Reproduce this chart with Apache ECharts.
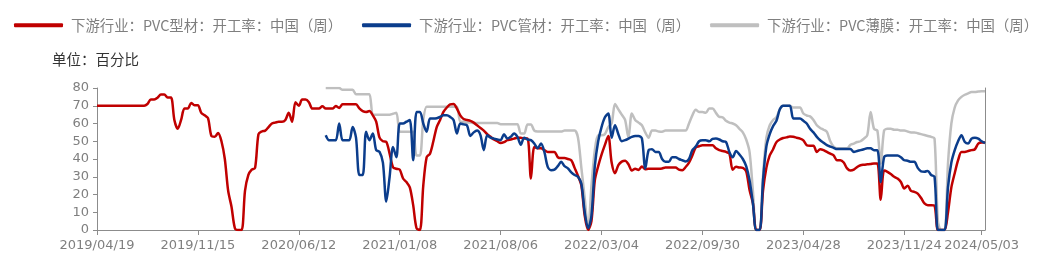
<!DOCTYPE html>
<html><head><meta charset="utf-8">
<script src="https://cdn.jsdelivr.net/npm/echarts@6/dist/echarts.min.js"></script>
<style>html,body{margin:0;padding:0;background:#fff}#c{width:1044px;height:262px}</style>
</head><body><div id="c"></div><script>
// Weekly categories: 2019/04/19 ... 2024/05/10 (265 weeks)
const startDate = '2019/04/19';
const weekCount = 265;
const tickLabels = ['2019/04/19','2019/11/15','2020/06/12','2021/01/08','2021/08/06','2022/03/04','2022/09/30','2023/04/28','2023/11/24','2024/05/03'];

const seriesNames = ['下游行业：PVC型材：开工率：中国（周）','下游行业：PVC管材：开工率：中国（周）','下游行业：PVC薄膜：开工率：中国（周）'];

const profileRate = [
70,70,70,70,70,70,70,70,70,70,
70,70,70,70,70,71,73.5,73.5,74.5,76.4,
76.4,74.6,74.6,62,57,62,68.4,68.4,71.6,70.3,
70.3,66,64.6,63,53,52.5,54.7,50,40,22,
13,1,0,0,22,31,34,35,54,55.5,
56,58,60,60.5,61,61,62,66,61,72,
70,73.5,73.5,72,68.4,68.4,68.4,69.7,68.4,68.4,
68.4,69.8,68.8,70.8,70.8,70.8,70.8,70.8,68.5,67,
66.5,67,64.6,61,52,50,49.6,43,35.4,34.5,
34,29,27,24,14,1,0,25,41,43,
50,58,62,66.5,69,70.8,71,68.4,64.6,62.5,
62,61.5,60.5,59,57.5,56,54,52.5,51,50,
49,49.5,50.6,51,51.5,52,52,51.5,51.5,29,
46.8,46,46,45,44,44,44,41,40.5,40.5,
40,39.3,35,30.5,25,8,0,5,28,36,
42.5,48,53,38,32,36.5,38.5,39,37,33.5,
34.5,33.8,35.8,34.2,34.5,34.5,34.5,34.5,34.7,35.2,
35.2,35.2,35.2,34,33.7,35.5,38,42,46.5,47.2,
47.8,47.8,47.8,47.8,46,45,44.5,44,43,34,
35.6,35.2,35,33,22.5,15,0,0,22,35,
42,45.5,49.5,51,51.8,52.2,52.7,52.5,52,51.5,
50.5,47.8,47.5,47.5,44,45.5,45,44,43,42,
39.3,39.3,38,34.7,33.5,34,35.5,36.5,36.8,37,
37.2,37.5,37.5,17,33.5,32.8,31.5,30,29,27,
23.4,25,22,21.5,20.5,18,15,14,14,13.7,
0,0,0,10,24,32,39.3,44,44,44.5,
45,45.5,48.7,49.3,49.3
];

const pipeRate = [
null,null,null,null,null,null,null,null,null,null,
null,null,null,null,null,null,null,null,null,null,
null,null,null,null,null,null,null,null,null,null,
null,null,null,null,null,null,null,null,null,null,
null,null,null,null,null,null,null,null,null,null,
null,null,null,null,null,null,null,null,null,null,
null,null,null,null,null,null,null,null,53.4,50.6,
50.6,50.6,60,50.6,50.6,50.6,58,52,31,31,
55.3,50.6,54.4,45,44,38,16,30,46.8,41,
60,60,61,62,39.3,66.5,66.5,60,55.3,62.8,
62.8,63,63.7,64.6,64.6,63.7,62,54.4,60,59.5,
59,53,55,56,53.4,45,53.4,52,51.5,51,
50.6,54,51.5,52.5,54.4,52.5,48,52,51,50.6,
48.7,46,48.7,44,35.6,33.7,34,36,38.4,36,
34.7,32.5,31,30,26,10,1,8,36,50,
58,63.5,65.6,52,59,54,50,50.6,51.5,52.5,
53,53,51.5,34.7,45,45.5,44,44,40,38.4,
38.4,41,41,40,39.3,38.6,40,45,47,50,
50.6,50.6,50,51.3,51.5,51,50,49.6,44,41,
44.5,42.5,40,36,28,15,0,0,28,47,
54,58.5,61.5,68,70,70,70,62.8,62.8,62.8,
61.5,60,57,55,52.5,50.6,49.2,47.8,47,46.3,
45.6,45.6,45.6,45.6,45.6,44,44.5,45,45.5,46,
46,45,45,27,41,42,42,42,42,41,
39.3,39,38.4,38.4,35,33,32.8,33.3,31,30,
0,0,0,24,38,45,50,53.4,49.6,48.7,
51.5,52,51.5,50,49
];

const filmRate = [
null,null,null,null,null,null,null,null,null,null,
null,null,null,null,null,null,null,null,null,null,
null,null,null,null,null,null,null,null,null,null,
null,null,null,null,null,null,null,null,null,null,
null,null,null,null,null,null,null,null,null,null,
null,null,null,null,null,null,null,null,null,null,
null,null,null,null,null,null,null,null,80,80,
80,80,80,79,79,79,79,76.5,76.5,76.5,
76.5,76.5,65,65,65,65,65,65,65.5,66,
55.3,55.3,55.3,55.3,55.3,42,42,62,69.5,69.5,
69.5,69.5,69.5,69.5,69.5,69.5,69.5,69.5,61,61,
60.5,60.5,60.3,60.3,60.3,60.3,60.3,60.3,60.3,60.3,
59.6,59.6,59.6,59.6,59.6,59.6,54.4,54.4,59.5,59.5,
56,55.5,55.5,55.5,55.5,55.5,55.5,55.5,55.5,56,
56,56,56,52,35,18,0,25,45,53.4,
53.4,54,58,60,71,68,65,62,52,65.6,
62,60.5,59,55,52,56,56,55.5,55.3,56,
56,56,56,56,56,56,60,64.6,67.8,66.5,
66.5,66,68.4,68.4,66,63.7,63.5,61.5,60.5,60,
59,57,55,51,44,22,0,0,30,52,
59,62,63.5,68,70,70,70,69,69,69,
65.6,64.5,64,62,59,57.5,56.5,55.3,50,47,
46,46,46,46,48,48.7,49.6,50,51.5,53.4,
66.5,57,56,37.5,56,57,57,56.5,56.5,56,
56,55.5,55,55,54.5,54,53.5,53,52.5,51.5,
5,0,0,37.5,60,69,73,75,76.2,77,
77.7,77.7,78,78.2,78.2
];

function pad(n){return n<10?'0'+n:''+n;}
const categories = [];
(function(){
  const p = startDate.split('/').map(Number);
  const d0 = Date.UTC(p[0], p[1]-1, p[2]);
  for (let i = 0; i < weekCount; i++) {
    const d = new Date(d0 + i*7*86400000);
    categories.push(d.getUTCFullYear()+'/'+pad(d.getUTCMonth()+1)+'/'+pad(d.getUTCDate()));
  }
})();
const showIdx = (idx) => tickLabels.indexOf(categories[idx]) >= 0;

const axisColor = '#8c8c8c';
const labelColor = '#7f7f7f';
const chart = echarts.init(document.getElementById('c'), null, {renderer:'canvas'});
const mk = (name, data, color, z) => ({
  name, type:'line', data, smooth:0.3, symbol:'none', showSymbol:false, z,
  lineStyle:{color, width:2.5}, itemStyle:{color}, connectNulls:false
});
chart.setOption({
  animation:false,
  backgroundColor:'#fff',
  legend:{
    left:14, top:18, padding:0, width:1200, itemWidth:49, itemHeight:4, itemGap:20, icon:'roundRect',
    textStyle:{fontFamily:'Noto Sans CJK SC', fontSize:14.4, color:'#7f7f7f', padding:[0,0,0,3]},
    data:seriesNames
  },
  graphic:[{type:'text', left:52, top:52, style:{text:'单位：百分比', font:'14.5px "Noto Sans CJK SC"', fill:'#333333'}}],
  grid:{left:97, right:59, top:88, bottom:32, containLabel:false},
  xAxis:{
    type:'category', data:categories, boundaryGap:false,
    axisLine:{lineStyle:{color:axisColor, width:1}},
    axisTick:{show:true, interval:showIdx, length:5, lineStyle:{color:axisColor}},
    axisLabel:{interval:showIdx, color:labelColor, fontSize:13, fontFamily:'DejaVu Sans', margin:9},
    splitLine:{show:false}
  },
  yAxis:[{
    type:'value', min:0, max:80, interval:10,
    axisLine:{show:true, lineStyle:{color:axisColor}},
    axisTick:{show:true, length:4, lineStyle:{color:axisColor}},
    axisLabel:{color:labelColor, fontSize:13, fontFamily:'DejaVu Sans', margin:8},
    splitLine:{show:false}
  },{
    type:'value', min:0, max:80, interval:10, position:'right',
    axisLine:{show:true, lineStyle:{color:axisColor}},
    axisTick:{show:false}, axisLabel:{show:false}, splitLine:{show:false}
  }],
  series:[
    mk(seriesNames[0], profileRate, '#C00000', 3),
    mk(seriesNames[1], pipeRate, '#0B3D8C', 4),
    mk(seriesNames[2], filmRate, '#BFBFBF', 2)
  ]
});
</script></body></html>
